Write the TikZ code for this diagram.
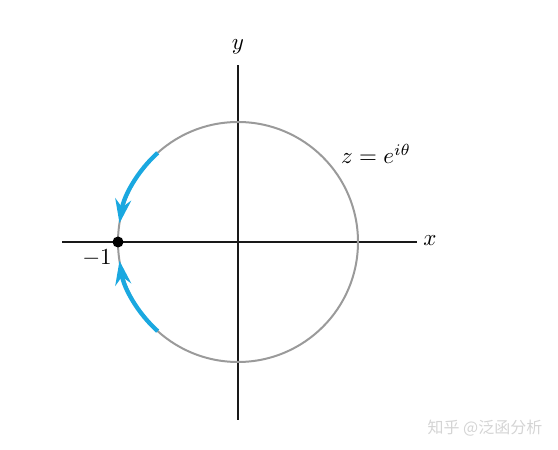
\documentclass[tikz,border=0pt]{standalone}
\usepackage{graphicx}
\usepackage{fontspec}
\newfontfamily\cjk{Noto Sans CJK SC}
\usetikzlibrary{arrows.meta,calc}
\definecolor{arcblue}{HTML}{1AA8E0}
\definecolor{circgray}{HTML}{9A9A9A}
\definecolor{wmgray}{HTML}{D4D4D4}
\newcommand{\enlargelbl}[1]{\scalebox{2.3}{#1}}
\tikzset{
  axis/.style={line width=1.6pt, draw=black!90},
  unitcircle/.style={line width=2pt, draw=circgray},
  bluearc/.style={line width=4.3pt, draw=arcblue, -{Stealth[length=24pt,width=16pt,inset=8pt]}},
  lbl/.style={inner sep=0pt}
}
\begin{document}
\begin{tikzpicture}[x=1pt,y=1pt]
\useasboundingbox (0,0) rectangle (558,450);
\coordinate (c) at (238,208);
\coordinate (xl) at (62,208);
\coordinate (xr) at (417,208);
\coordinate (yb) at (238,30);
\coordinate (yt) at (238,385);
\draw[axis] (xl) -- (xr);
\draw[axis] (yb) -- (yt);
\draw[unitcircle] (c) circle[radius=120];
\coordinate (a1) at ($(c)+(132:120)$);
\coordinate (a2) at ($(c)+(228:120)$);
\draw[bluearc] (a1) arc[start angle=132, end angle=171, radius=120];
\draw[bluearc] (a2) arc[start angle=228, end angle=189, radius=120];
\node[circle, fill=black, inner sep=0pt, minimum size=11pt] (m1) at (118,208) {};
\node[lbl] (ylab) at (238,403) {\enlargelbl{$y$}};
\node[lbl] (xlab) at (430,209) {\enlargelbl{$x$}};
\node[lbl] (mlab) at (97,192) {\enlargelbl{$-1$}};
\node[lbl] (zlab) at (376,296) {\enlargelbl{$z=e^{i\theta}$}};
\node[font=\cjk\fontsize{16}{19}\selectfont, text=wmgray, inner sep=0pt] (wm) at (485,22) {知乎 @泛函分析};
\end{tikzpicture}
\end{document}
